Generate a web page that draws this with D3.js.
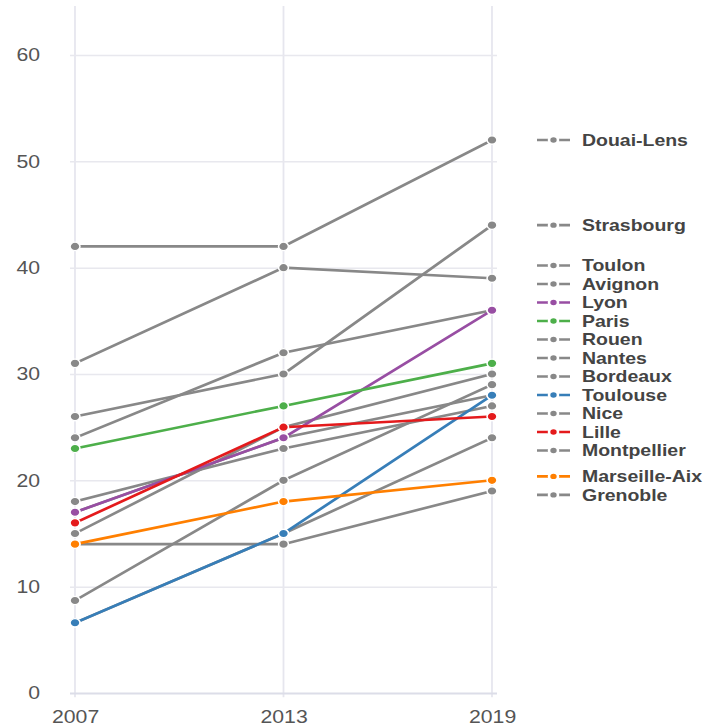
<!DOCTYPE html>
<html>
<head>
<meta charset="utf-8">
<script src="https://cdn.jsdelivr.net/npm/d3@7"></script>
<style>
  body { margin: 0; background: #fff; }
  text { font-family: "Liberation Sans", Arial, Helvetica, sans-serif; }
</style>
</head>
<body>
<script>
// data
const years = [2007, 2013, 2019];
const cities = ["Douai-Lens", "Strasbourg", "Toulon", "Avignon", "Lyon", "Paris", "Rouen", "Nantes",
    "Bordeaux", "Toulouse", "Nice", "Lille", "Montpellier", "Marseille-Aix", "Grenoble"];
const values2007 = [42, 26, 31, 24, 17, 23, 15, 8.7, 17, 6.6, 18, 16, 6.6, 14, 14];
const values2013 = [42, 30, 40, 32, 24, 27, 25, 20, 24, 15, 23, 25, 15, 18, 14];
const values2019 = [52, 44, 39, 36, 36, 31, 30, 29, 28, 28, 27, 26, 24, 20, 19];
const yTicks = [0, 10, 20, 30, 40, 50, 60];

const highlight = {
    "Lyon": "#984ea3",
    "Paris": "#4daf4a",
    "Toulouse": "#377eb8",
    "Lille": "#e41a1c",
    "Marseille-Aix": "#ff7f00"
};
const grey = "#888";

const width = 712, height = 726;
const sx = 1.18; // the picture is a bit wider than tall

const series = cities.map((c, i) => ({
    name: c,
    values: [values2007[i], values2013[i], values2019[i]],
    color: highlight[c] || grey
}));
// grey ones underneath
const drawOrder = series.filter(d => !highlight[d.name]).concat(series.filter(d => highlight[d.name]));

const svg = d3.select("body").append("svg")
    .attr("width", width).attr("height", height);
const g = svg.append("g").attr("transform", `scale(${sx},1)`);

const x = d3.scaleLinear().domain([2007, 2019]).range([75 / sx, 492 / sx]);
const y = d3.scaleLinear().domain([0, 60]).range([693, 55]);

// vertical grid
g.append("g").selectAll("line")
    .data(years).enter().append("line")
    .attr("x1", d => x(d)).attr("x2", d => x(d))
    .attr("y1", y(64.6)).attr("y2", y(-0.4))
    .attr("stroke", "#e6e6ee").attr("stroke-width", 1.5);

// y axis + horizontal grid
const yAxis = g.append("g")
    .attr("transform", `translate(${70 / sx},0)`)
    .call(d3.axisLeft(y).tickValues(yTicks)
        .tickSize(-(497 - 70) / sx).tickPadding(30 / sx));
yAxis.select(".domain").remove();
yAxis.selectAll(".tick line")
    .attr("stroke", d => d === 0 ? "#dcdde8" : "#e8e8ee")
    .attr("stroke-width", d => d === 0 ? 2.2 : 1.5);
yAxis.selectAll(".tick text")
    .attr("fill", "#555").style("font-size", "18px");

// x axis
const xAxis = g.append("g")
    .attr("transform", `translate(0,${y(0)})`)
    .call(d3.axisBottom(x).tickValues(years).tickFormat(d3.format("d"))
        .tickSize(0).tickPadding(17));
xAxis.select(".domain").remove();
xAxis.selectAll(".tick text")
    .attr("fill", "#555").style("font-size", "18px");

// lines
const line = d3.line()
    .x((d, i) => x(years[i]))
    .y(d => y(d));

g.append("g").selectAll("path")
    .data(drawOrder).enter().append("path")
    .attr("d", d => line(d.values))
    .attr("fill", "none")
    .attr("stroke", d => d.color)
    .attr("stroke-width", 2.6);

// dots
const dots = g.append("g").selectAll("g")
    .data(drawOrder).enter().append("g");
dots.selectAll("circle")
    .data(d => d.values.map((v, i) => ({ v: v, year: years[i], color: d.color })))
    .enter().append("circle")
    .attr("cx", d => x(d.year))
    .attr("cy", d => y(d.v))
    .attr("r", 4.2)
    .attr("fill", d => d.color)
    .attr("stroke", "#fff").attr("stroke-width", 1.3);

// legend: labels sit at their 2019 value, pushed apart where they collide
function spread(items, gap) {
    let clusters = items.slice().sort((a, b) => a.target - b.target)
        .map(d => ({ members: [d], lo: d.target, hi: d.target }));
    const top = c => (c.lo + c.hi) / 2 - (c.members.length - 1) * gap / 2;
    let merged = true;
    while (merged) {
        merged = false;
        for (let i = 1; i < clusters.length; i++) {
            const a = clusters[i - 1], b = clusters[i];
            if (top(a) + a.members.length * gap > top(b)) {
                clusters.splice(i - 1, 2, {
                    members: a.members.concat(b.members),
                    lo: Math.min(a.lo, b.lo), hi: Math.max(a.hi, b.hi)
                });
                merged = true;
                break;
            }
        }
    }
    clusters.forEach(c => {
        c.members.forEach((m, j) => { m.pos = top(c) + j * gap; });
    });
}

const legendItems = series.map(d => ({ s: d, target: y(d.values[2]) }));
spread(legendItems, 18.5);

const legend = g.append("g").selectAll("g")
    .data(legendItems).enter().append("g")
    .attr("transform", d => `translate(0,${d.pos})`);

legend.append("line")
    .attr("x1", 537 / sx).attr("x2", 570 / sx)
    .attr("stroke", d => d.s.color).attr("stroke-width", 2.6);
legend.append("circle")
    .attr("cx", 553.5 / sx).attr("r", 3.8)
    .attr("fill", d => d.s.color)
    .attr("stroke", "#fff").attr("stroke-width", 2.2);
legend.append("text")
    .attr("x", 582 / sx).attr("dy", "0.35em")
    .attr("fill", "#444")
    .style("font-size", "16.5px").style("font-weight", "bold")
    .text(d => d.s.name);
</script>
</body>
</html>
